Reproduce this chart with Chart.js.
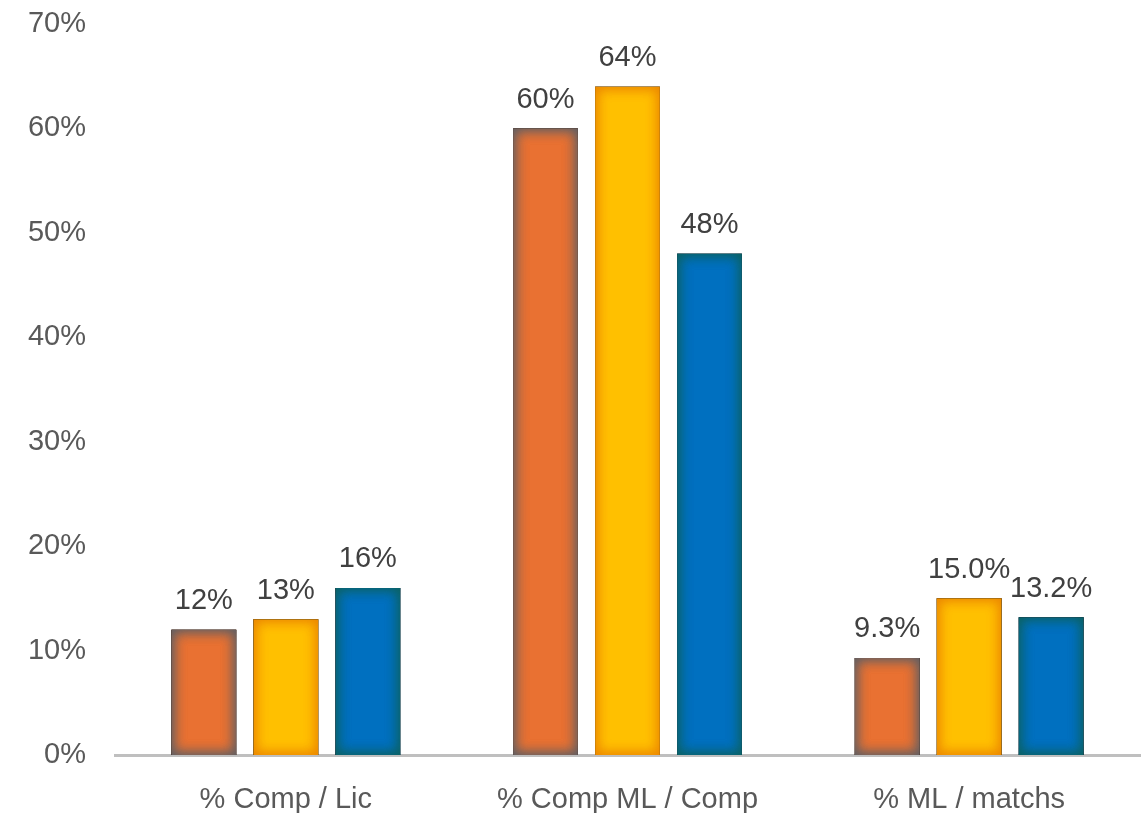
<!DOCTYPE html>
<html>
<head>
<meta charset="utf-8">
<title>Chart</title>
<script src="https://cdn.jsdelivr.net/npm/chart.js@4"></script>
<style>
  html, body { margin: 0; padding: 0; background: #ffffff; }
  #wrap { width: 1148px; height: 813px; position: relative; }
</style>
</head>
<body>
<div id="wrap"><canvas id="chart"></canvas></div>
<script>
// ----- Data -----
const categories = ["% Comp / Lic", "% Comp ML / Comp", "% ML / matchs"];
const series1 = [12, 60, 9.3];
const series2 = [13, 64, 15.0];
const series3 = [16, 48, 13.2];
const labelDecimals = [0, 0, 1];
const yTicks = [0, 10, 20, 30, 40, 50, 60, 70];

// ----- Colours -----
const fills = ["#E97132", "#FFC000", "#0070C0"];
const glows = ["rgba(95,95,100,1)", "rgba(236,135,0,1)", "rgba(12,98,98,1)"];
const FONT = "'Liberation Sans', Arial, sans-serif";

// inner glow on each bar edge, read from the bar elements
const innerGlow = {
  id: "innerGlow",
  afterDatasetDraw(chart, args) {
    const ctx = chart.ctx;
    args.meta.data.forEach(bar => {
      const p = bar.getProps(["x", "y", "base", "width"], true);
      const left = p.x - p.width / 2;
      const top = Math.min(p.y, p.base);
      const h = Math.abs(p.base - p.y);
      ctx.save();
      ctx.beginPath();
      ctx.rect(left, top, p.width, h);
      ctx.clip();
      for (let k = 0; k < 2; k++) {
        ctx.beginPath();
        ctx.rect(left - 40, top - 40, p.width + 80, h + 80);
        ctx.rect(left, top, p.width, h);
        ctx.shadowColor = glows[args.index];
        ctx.shadowBlur = 14;
        ctx.fillStyle = "#000";
        ctx.fill("evenodd");
      }
      ctx.restore();
    });
  }
};

// value labels above the bars
const valueLabels = {
  id: "valueLabels",
  afterDatasetsDraw(chart) {
    const ctx = chart.ctx;
    ctx.save();
    ctx.font = "29px " + FONT;
    ctx.fillStyle = "#404040";
    ctx.textAlign = "center";
    ctx.textBaseline = "bottom";
    chart.data.datasets.forEach((ds, di) => {
      chart.getDatasetMeta(di).data.forEach((bar, i) => {
        const txt = ds.data[i].toFixed(labelDecimals[i]) + "%";
        ctx.fillText(txt, bar.x, bar.y - 14);
      });
    });
    ctx.restore();
  }
};

new Chart(document.getElementById("chart"), {
  type: "bar",
  data: {
    labels: categories,
    datasets: [series1, series2, series3].map((d, i) => ({
      label: "S" + (i + 1),
      data: d,
      backgroundColor: fills[i],
      borderWidth: 0,
      categoryPercentage: 0.72,
      barPercentage: 0.79
    }))
  },
  options: {
    responsive: true,
    maintainAspectRatio: false,
    animation: false,
    layout: { padding: { top: 24, right: 8, left: 0, bottom: 0 } },
    plugins: {
      legend: { display: false },
      tooltip: { enabled: false }
    },
    scales: {
      x: {
        grid: { display: false, drawTicks: false },
        border: { display: true, color: "#BFBFBF", width: 3 },
        ticks: { color: "#595959", font: { size: 29, family: FONT }, padding: 28, maxRotation: 0 },
        afterFit(scale) { scale.height = 58; scale.paddingLeft = 0; scale.paddingRight = 0; }
      },
      y: {
        min: 0,
        max: 70,
        grid: { display: false, drawTicks: false },
        border: { display: false },
        afterBuildTicks(scale) { scale.ticks = yTicks.map(v => ({ value: v })); },
        ticks: {
          color: "#595959",
          font: { size: 29, family: FONT },
          padding: 29,
          callback: v => v + "%"
        },
        afterFit(scale) { scale.width = 115; scale.paddingTop = 0; scale.paddingBottom = 0; }
      }
    }
  },
  plugins: [innerGlow, valueLabels]
});
</script>
</body>
</html>
